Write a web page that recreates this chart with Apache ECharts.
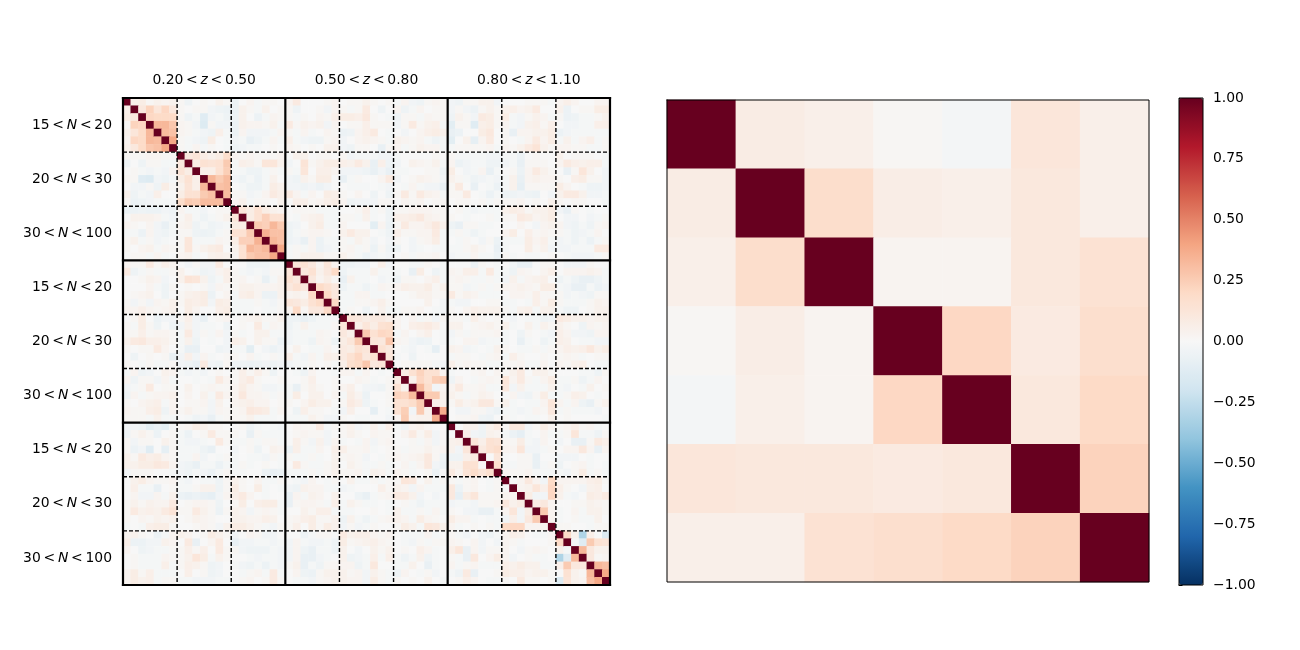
<!DOCTYPE html>
<html>
<head>
<meta charset="utf-8">
<style>html,body{margin:0;padding:0;background:#fff}#c{width:1300px;height:650px}</style>
<script src="https://cdn.jsdelivr.net/npm/echarts@6/dist/echarts.min.js"></script>
</head>
<body>
<div id="c"></div>
<script>
// Upper-triangle rows of the 63x63 correlation matrix, in hundredths, read by eye.
const r00=[4,5,1,3,2,3,1,-3,0,1,0,3,1,-4,0,2,-1,1,1,0,2,6,0,0,0,1,2,0,1,1,3,1,0,1,-1,2,-2,-3,1,2,1,-2,-3,1,1,3,3,-2,0,0,0,1,1,1,-1,2,4,2,0,0,2,2];
const r01=[7,15,8,14,7,1,0,1,1,-2,-3,-4,-4,3,1,-1,3,0,1,1,-3,0,0,1,-2,2,1,-1,1,6,0,-3,0,2,-3,-1,2,0,1,1,-2,1,-2,-4,1,3,1,3,4,2,3,6,0,0,3,-4,0,1,1,5,5];
const r02=[14,13,13,13,1,-3,-1,-8,-2,-1,-3,-3,3,0,-4,-1,2,1,1,-1,1,0,2,1,4,5,5,4,7,1,0,-1,-3,1,1,-1,2,1,1,-3,3,1,-2,6,5,1,5,-1,-2,1,3,2,-1,1,-4,-3,-1,-1,1,3];
const r03=[30,30,22,2,1,-2,-9,1,-2,-2,-4,3,2,2,1,3,-1,6,1,3,2,3,-2,2,0,1,1,4,1,1,1,-2,1,6,1,3,4,-1,-7,1,1,-8,4,5,1,2,-1,-2,3,4,1,4,0,-2,-2,-1,-1,4,4];
const r04=[28,25,2,1,-1,-2,-3,4,-1,-4,2,-2,-2,-2,-1,2,1,-1,2,-1,0,2,1,-4,-3,2,4,6,0,-1,0,-2,0,2,4,5,3,-5,-4,0,0,5,7,0,1,-5,2,2,3,3,5,-4,-2,-1,-1,-1,-1,-1];
const r05=[38,1,-1,-2,-3,5,0,-1,-2,-1,-5,-3,-1,2,-1,4,-1,-2,-3,-3,1,2,-2,0,2,3,2,1,-1,3,2,1,2,-1,-3,-1,-7,0,3,-6,2,6,0,1,0,-1,2,6,2,5,-1,3,-1,2,4,-1,1];
const r06=[1,-1,2,-1,1,0,-1,-3,-2,-1,-1,0,1,0,2,1,0,1,0,3,3,-2,-3,1,1,0,-5,1,2,-1,1,3,2,2,-1,-1,1,1,1,1,2,-1,2,1,3,6,9,3,1,2,2,1,1,-1,-1,1];
const r07=[7,9,5,3,5,12,2,1,2,1,1,1,2,0,3,3,0,1,1,0,1,-2,-1,-1,-1,-2,-2,-1,0,0,0,0,1,0,1,-1,-1,-1,-1,-2,-2,-1,-1,-4,0,1,0,0,3,0,1,1,1,0,-1];
const r08=[5,10,9,10,20,-1,4,3,1,8,8,3,-2,0,9,1,3,5,5,4,3,6,3,-5,4,-3,-2,0,3,2,1,3,-1,2,-4,-2,-1,-1,-3,-3,-2,-1,-5,1,1,1,0,2,6,4,3,4,4,-1];
const r09=[4,4,10,18,-1,-1,-3,-3,-1,1,-1,1,-1,8,0,4,4,2,-2,-2,-2,-3,-5,-2,-5,-1,-1,0,0,1,1,-3,5,0,-2,-1,2,-5,-1,0,1,-4,2,6,3,1,0,-5,1,8,3,0,-2];
const r10=[30,20,28,-2,-3,-1,-4,-1,3,0,-2,-3,3,1,5,5,0,-5,-1,1,0,0,2,6,-2,0,1,3,2,1,-2,3,1,-1,-3,-2,-1,-2,-1,3,-5,2,3,2,2,1,0,4,5,1,1,-2];
const r11=[25,28,0,-1,-3,-3,-1,5,3,-2,-2,-3,-2,-4,-2,0,0,-1,-1,-1,0,-1,-2,0,-1,2,-1,-2,-2,-5,1,6,0,-5,0,-1,-4,-1,3,-6,1,1,1,1,5,2,0,-1,-3,-3,-2];
const r12=[28,1,1,-2,-1,2,6,4,6,2,-1,2,0,5,4,1,0,2,0,-3,0,-3,1,6,1,6,3,2,-1,1,1,6,0,-1,-4,-1,-3,-3,-2,-3,-4,0,-2,3,6,6,3,-2,-2,-1];
const r13=[1,3,-1,1,1,0,3,0,4,4,1,2,4,5,2,-3,-2,-2,-2,1,1,0,2,1,2,0,1,1,0,1,1,0,1,-1,1,1,1,2,0,1,0,3,1,0,1,1,0,0,-1];
const r14=[8,5,10,5,3,2,0,1,1,1,-1,-1,-1,0,0,1,4,-1,1,-3,1,1,2,2,2,1,1,0,1,-1,-2,-1,-1,-1,3,5,4,1,3,3,5,-2,-5,1,0,-1,0,0];
const r15=[5,10,17,10,10,0,-1,2,3,4,-1,-1,1,1,-1,3,-1,0,-3,4,4,5,7,3,2,1,1,0,-1,0,0,1,-1,1,1,6,5,2,3,5,0,-2,-2,0,-2,-1,1];
const r16=[20,17,30,20,-3,-2,0,3,5,-1,-1,2,0,0,0,-7,2,-4,1,6,2,2,4,7,3,-3,-5,1,1,-1,-1,0,0,0,2,0,-2,2,3,2,-2,-3,-1,-3,1,2];
const r17=[33,25,25,-3,-1,1,2,2,1,0,3,6,3,3,0,-1,-3,4,1,1,2,2,6,-1,-1,1,-1,-3,-1,0,0,2,5,0,4,1,2,1,1,-1,-3,-2,-1,2,0];
const r18=[30,25,-3,-2,-5,2,-4,-1,-1,1,-1,3,1,-2,0,-2,1,0,-2,1,2,5,-1,0,-1,1,0,-2,1,-4,-1,-1,-1,5,2,4,-1,-2,-1,-3,-1,-4,-1,1];
const r19=[38,-1,1,-1,2,-4,-2,-1,1,2,-1,1,-4,1,-3,-3,0,-2,-1,0,-1,-1,-1,-1,1,3,1,0,-5,-1,0,0,5,1,3,-2,-2,-2,-1,-1,-1,6,6];
const r20=[-1,1,3,3,3,1,1,3,1,-1,-4,-2,-1,-2,0,1,-1,1,1,2,0,-2,-1,-1,2,-1,-1,-4,1,-1,0,-1,-1,0,1,0,-1,-2,-2,-2,-1,1];
const r21=[8,10,7,2,8,2,-3,-3,-2,-2,0,4,-2,0,0,-1,-1,1,0,-1,0,0,0,-4,1,0,-1,0,-2,-5,-5,0,1,1,0,-2,-2,-2,1,0,0];
const r22=[7,10,3,7,13,-3,-1,-1,-1,3,-1,-1,-1,0,-5,5,0,-3,-1,2,1,4,4,-1,6,-1,-1,-3,2,1,0,2,4,0,2,2,2,3,2,-1];
const r23=[7,2,5,1,-5,3,-1,-1,0,-2,-1,-3,1,1,0,2,4,-1,1,2,1,-1,-1,1,-1,-2,3,-1,2,3,4,0,-3,-1,-3,-5,-5,-3,-1];
const r24=[13,10,7,-3,-1,-1,-3,-1,2,1,2,4,3,3,5,1,3,1,1,-2,-1,1,-1,1,2,2,3,2,1,5,5,-1,-2,-5,-5,-1,-4,-2];
const r25=[13,7,-1,-1,2,2,-1,-1,0,0,0,1,3,3,1,1,6,1,3,2,-1,-1,-1,0,2,2,1,4,1,1,1,-2,-1,-2,-3,1,1];
const r26=[13,-1,-1,1,1,2,4,1,0,0,0,0,3,0,-2,-1,-2,-2,0,0,1,1,-1,-1,0,-1,4,1,5,1,-1,-1,-1,1,3,2];
const r27=[-1,1,0,-3,0,3,-1,-1,1,1,2,0,-1,-2,1,0,2,4,3,3,3,1,-1,3,4,-1,3,3,-1,-3,-3,0,1,3,3];
const r28=[8,7,5,6,6,4,2,0,2,-1,1,-2,1,1,1,-1,4,1,0,1,0,-2,0,-1,-1,-3,-2,6,5,3,3,2,3,3];
const r29=[4,8,5,10,11,2,0,4,5,6,4,0,3,3,0,1,2,3,1,3,-1,0,3,-1,3,1,3,1,0,-3,2,1,2];
const r30=[20,10,14,13,-1,2,0,2,4,0,-1,-2,1,-1,1,1,1,2,-1,0,-3,1,0,-1,-2,4,2,-2,-2,-3,2,2];
const r31=[8,7,22,2,1,-2,-4,-3,0,-1,-1,0,2,2,-2,-1,-1,-1,0,-5,-1,0,-3,-1,4,3,0,-1,-1,-2,-2];
const r32=[10,7,0,-1,-2,0,-1,-6,0,3,2,-2,-1,0,-1,3,1,0,-1,-1,1,-1,1,2,4,3,4,7,3,5];
const r33=[8,-1,0,-3,0,0,0,0,-1,1,1,0,-1,1,2,-1,4,1,0,0,1,0,1,2,1,-1,0,1,1];
const r34=[0,1,1,1,1,-1,-2,4,1,2,1,1,-1,-1,1,1,2,-1,-1,2,0,2,1,3,4,0,-1,-1];
const r35=[5,10,15,10,10,2,-1,0,0,1,2,0,2,1,3,6,0,3,3,1,0,0,0,-1,-1,-3,1];
const r36=[3,14,10,18,20,-3,2,0,-1,1,2,1,8,2,6,1,-1,2,5,-1,-1,1,-3,-1,2,0];
const r37=[28,12,-2,2,2,6,1,1,2,-1,-1,7,-2,3,-1,-1,-1,3,-1,-2,0,-1,3,0,1];
const r38=[20,20,3,3,1,-1,1,3,2,0,0,2,-2,-3,1,5,-1,-1,1,4,3,0,-1,0];
const r39=[3,3,1,5,2,3,7,7,1,3,-1,0,-1,-1,2,8,2,-1,2,-3,-5,1,3];
const r40=[35,0,-2,-2,1,1,-2,-4,-1,-1,-2,-1,2,1,7,-1,1,-1,-1,-1,-2,0];
const r41=[0,1,1,2,-3,-4,0,1,-1,0,-1,-1,0,3,0,1,0,0,0,0,-1];
const r42=[0,3,3,-3,3,6,1,7,7,-2,1,5,2,1,2,4,1,2,-1,0];
const r43=[4,-2,-3,3,2,-1,-4,-6,-1,0,2,-1,-1,1,8,-1,-1,-3,1];
const r44=[8,4,10,9,1,1,5,-1,-2,2,0,-2,0,-5,-5,1,6,4];
const r45=[6,10,12,2,2,8,-2,-2,-1,1,0,2,2,7,2,-5,2];
const r46=[0,8,0,0,1,1,-5,0,0,-2,-2,-2,0,-1,0,0];
const r47=[11,-1,-1,1,1,-5,-1,1,-3,0,1,2,-1,0,-1];
const r48=[1,1,1,2,-1,-1,-1,-1,-2,1,5,-1,1,-1];
const r49=[0,2,7,2,-2,13,2,2,2,2,4,5,1];
const r50=[2,3,8,4,14,4,1,0,-2,3,4,0];
const r51=[5,-2,-2,14,3,-1,-2,0,5,4,6];
const r52=[5,7,2,0,0,1,1,3,2,1];
const r53=[20,2,-1,0,2,-1,3,3,1];
const r54=[2,-1,0,1,-1,-1,3,0];
const r55=[1,1,0,0,-1,1,1];
const r56=[13,3,-27,4,0,-9];
const r57=[-1,-8,20,10,9];
const r58=[30,7,3,3];
const r59=[7,1,2];
const r60=[30,26];
const r61=[38];
const upperRows=[r00,r01,r02,r03,r04,r05,r06,r07,r08,r09,r10,r11,r12,r13,r14,r15,r16,r17,r18,r19,r20,r21,r22,r23,r24,r25,r26,r27,r28,r29,r30,r31,r32,r33,r34,r35,r36,r37,r38,r39,r40,r41,r42,r43,r44,r45,r46,r47,r48,r49,r50,r51,r52,r53,r54,r55,r56,r57,r58,r59,r60,r61,[]];

// My eye under-read the pale colours against the colour bar; this calibrates the readings.
function calibrate(h){
  const a=Math.abs(h);
  const c=a<=15?a*1.5:22.5+(a-15)*0.7;
  return Math.sign(h)*c/100;
}

// 7x7 correlation matrix of the right panel
const rightM0=[1,0.08,0.06,0.015,-0.02,0.12,0.06];
const rightM1=[0.08,1,0.18,0.07,0.06,0.11,0.06];
const rightM2=[0.06,0.18,1,0.03,0.03,0.11,0.15];
const rightM3=[0.015,0.07,0.03,1,0.21,0.09,0.17];
const rightM4=[-0.02,0.06,0.03,0.21,1,0.11,0.2];
const rightM5=[0.12,0.11,0.11,0.09,0.11,1,0.23];
const rightM6=[0.06,0.06,0.15,0.17,0.2,0.23,1];
const rightRows=[rightM0,rightM1,rightM2,rightM3,rightM4,rightM5,rightM6];

const zLabels=['0.20','0.50','0.80','1.10'];
const nLabels=[['15','20'],['20','30'],['30','100']];
const solidEdges=[0,21,42,63];
const dashEdges=[7,14,28,35,49,56];
const rdbu=['#053061','#2166ac','#4393c3','#92c5de','#d1e5f0','#f7f7f7','#fddbc7','#f4a582','#d6604d','#b2182b','#67001f'];

const leftData=[];
upperRows.forEach((row,i)=>{
  leftData.push([i,i,1]);
  row.forEach((v,k)=>{const j=i+1+k,c=calibrate(v);leftData.push([j,i,c]);leftData.push([i,j,c]);});
});
const rightData=[];
rightRows.forEach((row,i)=>row.forEach((v,j)=>rightData.push([j,i,v])));
const idx=n=>Array.from({length:n},(_,i)=>String(i));

const F='DejaVu Sans';
const FS=13.9;
const TH='\u2009';
const rich={t:{fontFamily:F,fontSize:FS,color:'#000'},
  i:{fontFamily:F,fontSize:FS,fontStyle:'italic',color:'#000'}};

function lineSeries(xa,ya,data,width,type,cap){
  return {type:'line',xAxisIndex:xa,yAxisIndex:ya,data,symbol:'none',silent:true,clip:false,z:5,animation:false,
    lineStyle:{color:'#000',width,type,cap:cap||'butt',join:'miter'}};
}
const series=[
  {type:'heatmap',xAxisIndex:0,yAxisIndex:0,data:leftData,progressive:0,animation:false,silent:true,z:2},
  {type:'heatmap',xAxisIndex:2,yAxisIndex:2,data:rightData,progressive:0,animation:false,silent:true,z:2}
];
solidEdges.forEach(e=>{
  series.push(lineSeries(1,1,[[e,0],[e,63]],2.2,'solid','square'));
  series.push(lineSeries(1,1,[[0,e],[63,e]],2.2,'solid','square'));
});
dashEdges.forEach(e=>{
  series.push(lineSeries(1,1,[[e,0],[e,63]],1.4,[4,2]));
  series.push(lineSeries(1,1,[[0,e],[63,e]],1.4,[4,2]));
});
series.push(lineSeries(3,3,[[0,0],[7,0],[7,7],[0,7],[0,0]],1,'solid','square'));
series.push(lineSeries(4,4,[[0,-1],[1,-1],[1,1],[0,1],[0,-1]],1,'solid','square'));

const hiddenCat=n=>({type:'category',data:idx(n),show:false});
const option={
  animation:false,
  backgroundColor:'#fff',
  grid:[
    {left:123,top:98,width:487,height:487},
    {left:667,top:100,width:482,height:482},
    {left:1179,top:98,width:24,height:487}
  ],
  xAxis:[
    {...hiddenCat(63),gridIndex:0},
    {type:'value',gridIndex:0,min:0,max:63,interval:10.5,position:'top',
      axisLine:{show:false},axisTick:{show:false},splitLine:{show:false},
      axisLabel:{margin:11,rich,showMinLabel:true,showMaxLabel:true,formatter:v=>{
        const k=(v-10.5)/21;
        if(!Number.isInteger(k)||k<0||k>2)return '';
        return `{t|${zLabels[k]}${TH}<${TH}}{i|z}{t|${TH}<${TH}${zLabels[k+1]}}`;
      }}},
    {...hiddenCat(7),gridIndex:1},
    {type:'value',gridIndex:1,min:0,max:7,show:false},
    {type:'value',gridIndex:2,min:0,max:1,show:false}
  ],
  yAxis:[
    {...hiddenCat(63),gridIndex:0,inverse:true},
    {type:'value',gridIndex:0,min:0,max:63,interval:3.5,inverse:true,position:'left',
      axisLine:{show:false},axisTick:{show:false},splitLine:{show:false},
      axisLabel:{margin:11,align:'right',rich,formatter:v=>{
        const k=(v/3.5-1)/2;
        if(!Number.isInteger(k)||k<0||k>8)return '';
        const p=nLabels[k%3];
        return `{t|${p[0]}${TH}<${TH}}{i|N}{t|${TH}<${TH}${p[1]}}`;
      }}},
    {...hiddenCat(7),gridIndex:1,inverse:true},
    {type:'value',gridIndex:1,min:0,max:7,inverse:true,show:false},
    {type:'value',gridIndex:2,min:-1,max:1,interval:0.25,position:'right',
      axisLine:{show:false},splitLine:{show:false},
      axisTick:{show:true,length:3.5,lineStyle:{color:'#000',width:1}},
      axisLabel:{margin:10,padding:[3,0,0,0],fontFamily:F,fontSize:FS,color:'#000',
        formatter:v=>v.toFixed(2).replace('-','\u2212')}}
  ],
  visualMap:{type:'continuous',seriesIndex:[0,1],min:-1,max:1,show:true,calculable:false,hoverLink:false,
    left:1179,top:98,itemWidth:24,itemHeight:487,padding:0,text:null,showLabel:false,z:1,
    indicatorSize:0,inRange:{color:rdbu}},
  series
};
const chart=echarts.init(document.getElementById('c'),null,{renderer:'canvas'});
chart.setOption(option);
</script>
</body>
</html>
